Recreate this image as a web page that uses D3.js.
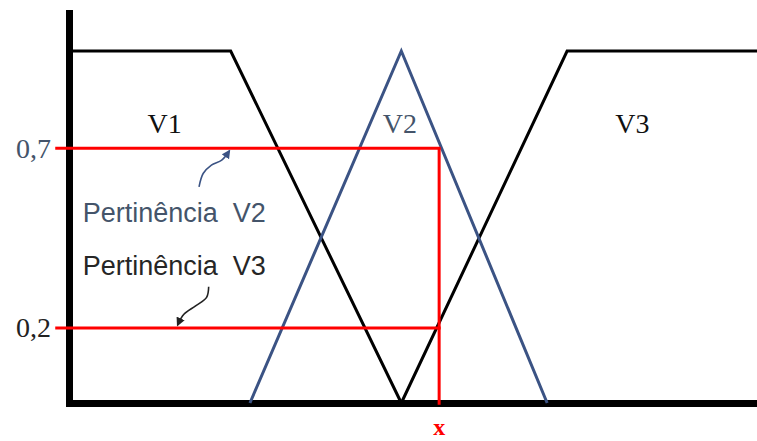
<!DOCTYPE html>
<html>
<head>
<meta charset="utf-8">
<script src="https://cdn.jsdelivr.net/npm/d3@7"></script>
<style>
  body { margin: 0; background: #fff; }
  svg { display: block; }
</style>
</head>
<body>
<svg width="757" height="441"></svg>
<script>
// membership functions (x in arbitrary units, y = pertinence)
const v1Points = [[0, 1], [2.35, 1], [4.83, 0]]
const v2Points = [[2.63, 0], [4.83, 1], [6.95, 0]]
const v3Points = [[4.83, 0], [7.24, 1], [10.2, 1]]
const setNames = ['V1', 'V2', 'V3']
const setLabelX = [1.39, 4.81, 8.19]

// reading at x
const xCut = 5.38
const levels = [0.724, 0.213]
const tickLabels = ['0,7', '0,2']

const noteTexts = ['Pertinência  V2', 'Pertinência  V3']
const blueArrow = [[1.89, 0.614], [1.95, 0.652], [2.07, 0.676], [2.22, 0.69], [2.33, 0.716]]
const blackArrow = [[2.03, 0.33], [2.0, 0.3], [1.84, 0.276], [1.67, 0.252], [1.58, 0.222]]

const blue = '#3b5384'
const blueText = '#44546a'

const svg = d3.select('svg')

const x = d3.scaleLinear().domain([0, 10]).range([69, 757])
const y = d3.scaleLinear().domain([0, 1.108]).range([403, 13])

const line = d3.line().x(d => x(d[0])).y(d => y(d[1]))

// axes
const yAxis = d3.axisLeft(y)
    .tickValues(levels)
    .tickFormat((d, i) => tickLabels[i])
    .tickSize(0)
    .tickPadding(18)
const gy = svg.append('g')
    .attr('transform', `translate(${x(0)},0)`)
    .call(yAxis)
gy.select('.domain')
    .attr('stroke', '#000')
    .attr('stroke-width', 7)
    .attr('stroke-linecap', 'square')
gy.selectAll('.tick text')
    .style('font-family', '"Liberation Serif", serif')
    .style('font-size', '28px')
    .attr('fill', (d, i) => i === 0 ? blueText : '#222')

const xAxis = d3.axisBottom(x).tickValues([]).tickSizeOuter(0)
const gx = svg.append('g')
    .attr('transform', `translate(0,${y(0)})`)
    .call(xAxis)
gx.select('.domain')
    .attr('stroke', '#000')
    .attr('stroke-width', 7)
    .attr('stroke-linecap', 'square')

// sets
svg.append('path').attr('d', line(v1Points))
    .attr('fill', 'none').attr('stroke', '#000').attr('stroke-width', 3)
svg.append('path').attr('d', line(v3Points))
    .attr('fill', 'none').attr('stroke', '#000').attr('stroke-width', 3)
svg.append('path').attr('d', line(v2Points))
    .attr('fill', 'none').attr('stroke', blue).attr('stroke-width', 3)

svg.selectAll('.setname')
    .data(setNames)
    .join('text')
    .attr('class', 'setname')
    .attr('x', (d, i) => x(setLabelX[i]))
    .attr('y', y(0.767))
    .attr('text-anchor', 'middle')
    .style('font-family', '"Liberation Serif", serif')
    .style('font-size', '28px')
    .attr('fill', (d, i) => i === 1 ? blueText : '#111')
    .text(d => d)

// red reading lines
levels.forEach(l => {
    svg.append('line')
        .attr('x1', x(-0.2)).attr('x2', x(xCut) + 1.5)
        .attr('y1', y(l)).attr('y2', y(l))
        .attr('stroke', '#ff0000').attr('stroke-width', 3)
})
svg.append('line')
    .attr('x1', x(xCut)).attr('x2', x(xCut))
    .attr('y1', y(levels[0])).attr('y2', y(-0.005))
    .attr('stroke', '#ff0000').attr('stroke-width', 3)

svg.append('text')
    .attr('x', x(xCut))
    .attr('y', 435)
    .attr('text-anchor', 'middle')
    .style('font-family', '"Liberation Serif", serif')
    .style('font-size', '24px')
    .style('font-weight', 'bold')
    .attr('fill', '#ff0000')
    .text('x')

// notes with arrows
const defs = svg.append('defs')
;[['headBlue', blue], ['headBlack', '#222']].forEach(([id, c]) => {
    defs.append('marker')
        .attr('id', id)
        .attr('viewBox', '0 0 10 10')
        .attr('refX', 8).attr('refY', 5)
        .attr('markerWidth', 5.5).attr('markerHeight', 5.5)
        .attr('orient', 'auto')
        .append('path')
        .attr('d', 'M0,0 L10,5 L0,10 Z')
        .attr('fill', c)
})

const curve = d3.line().x(d => x(d[0])).y(d => y(d[1])).curve(d3.curveCatmullRom)
svg.append('path').attr('d', curve(blueArrow))
    .attr('fill', 'none').attr('stroke', blue).attr('stroke-width', 1.6)
    .attr('marker-end', 'url(#headBlue)')
svg.append('path').attr('d', curve(blackArrow))
    .attr('fill', 'none').attr('stroke', '#222').attr('stroke-width', 1.6)
    .attr('marker-end', 'url(#headBlack)')

svg.selectAll('.note')
    .data(noteTexts)
    .join('text')
    .attr('class', 'note')
    .attr('x', x(0.2))
    .attr('y', (d, i) => i === 0 ? 222 : 275)
    .style('font-family', '"Liberation Sans", Arial, sans-serif')
    .style('font-size', '27px')
    .style('white-space', 'pre')
    .attr('fill', (d, i) => i === 0 ? blueText : '#262626')
    .text(d => d)
</script>
</body>
</html>
